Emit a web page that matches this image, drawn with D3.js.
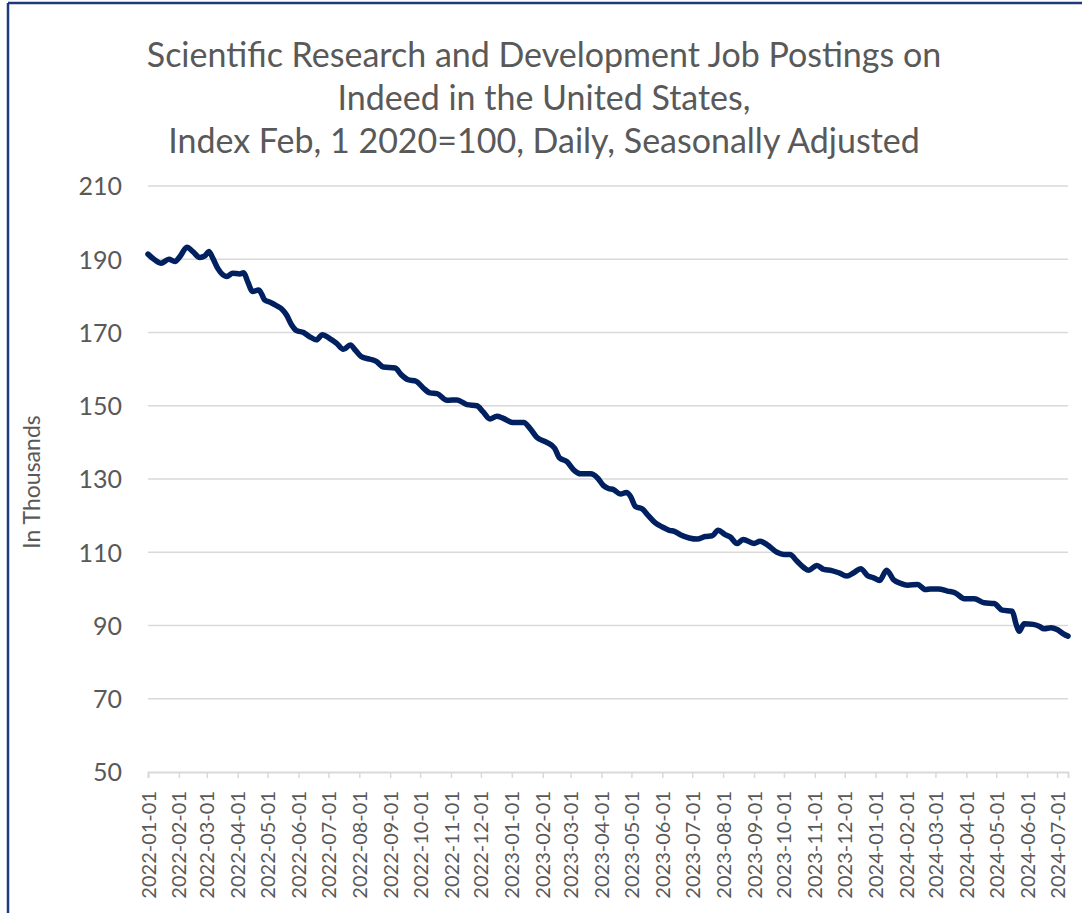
<!DOCTYPE html>
<html>
<head>
<meta charset="utf-8">
<script src="https://cdn.jsdelivr.net/npm/d3@7"></script>
<style>
  html, body { margin: 0; padding: 0; background: #fff; }
  svg { display: block; }
  text { font-family: Lato, "Open Sans", sans-serif; fill: #595959; }
</style>
</head>
<body>
<div id="chart"></div>
<script>
// title lines
const titleLines = [
  "Scientific Research and Development Job Postings on",
  "Indeed in the United States,",
  "Index Feb, 1 2020=100, Daily, Seasonally Adjusted"
];
const yLabel = "In Thousands";
const yTicks = [50, 70, 90, 110, 130, 150, 170, 190, 210];

// series
const dates = [
  "2022-01-01","2022-01-08","2022-01-14","2022-01-22","2022-01-28","2022-02-02","2022-02-09","2022-02-15",
  "2022-02-22","2022-02-27","2022-03-03","2022-03-07","2022-03-12","2022-03-21","2022-03-27","2022-04-03",
  "2022-04-07","2022-04-11","2022-04-16","2022-04-22","2022-04-25","2022-04-28","2022-05-04","2022-05-10",
  "2022-05-16","2022-05-20","2022-05-25","2022-05-30","2022-06-06","2022-06-12","2022-06-19","2022-06-25",
  "2022-07-02","2022-07-09","2022-07-16","2022-07-23","2022-07-28","2022-08-03","2022-08-12","2022-08-18",
  "2022-08-25","2022-09-06","2022-09-12","2022-09-19","2022-09-27","2022-10-04","2022-10-11","2022-10-18",
  "2022-10-28","2022-11-07","2022-11-17","2022-11-27","2022-12-03","2022-12-10","2022-12-17","2022-12-23",
  "2023-01-02","2023-01-13","2023-01-19","2023-01-26","2023-02-05","2023-02-13","2023-02-18","2023-02-25",
  "2023-03-04","2023-03-11","2023-03-21","2023-03-28","2023-04-03","2023-04-08","2023-04-13","2023-04-20",
  "2023-04-26","2023-04-30","2023-05-05","2023-05-12","2023-05-18","2023-05-25","2023-06-01","2023-06-08",
  "2023-06-13","2023-06-19","2023-06-28","2023-07-06","2023-07-14","2023-07-21","2023-07-27","2023-08-03",
  "2023-08-08","2023-08-15","2023-08-21","2023-09-01","2023-09-07","2023-09-14","2023-09-24","2023-10-01",
  "2023-10-07","2023-10-14","2023-10-21","2023-10-26","2023-11-03","2023-11-10","2023-11-18","2023-11-25",
  "2023-12-03","2023-12-10","2023-12-17","2023-12-24","2023-12-30","2024-01-05","2024-01-12","2024-01-19",
  "2024-01-26","2024-02-02","2024-02-12","2024-02-20","2024-02-25","2024-03-04","2024-03-13","2024-03-21",
  "2024-03-30","2024-04-09","2024-04-19","2024-04-29","2024-05-07","2024-05-17","2024-05-21","2024-05-24",
  "2024-05-29","2024-06-07","2024-06-13","2024-06-18","2024-06-25","2024-07-01","2024-07-08","2024-07-12"
];
const values = [
  191.4,189.8,188.9,190.0,189.4,190.7,193.3,192.1,
  190.5,190.9,192.1,190.3,187.5,185.3,186.2,186.0,
  186.3,183.9,181.2,181.6,180.5,178.9,178.2,177.3,
  176.2,174.8,172.1,170.5,170.0,168.9,168.0,169.4,
  168.4,167.1,165.4,166.6,165.2,163.4,162.7,162.1,
  160.6,160.3,158.5,157.1,156.7,154.9,153.5,153.3,
  151.5,151.6,150.3,150.0,148.4,146.4,147.1,146.6,
  145.4,145.4,143.9,141.4,140.0,138.4,135.7,134.8,
  132.5,131.4,131.4,130.3,128.2,127.4,127.1,125.9,
  126.3,125.3,122.5,121.8,120.0,118.0,116.9,116.0,
  115.7,114.8,113.9,113.6,114.3,114.5,116.0,114.8,
  114.2,112.4,113.5,112.4,113.0,112.1,110.0,109.4,
  109.4,107.6,105.8,105.1,106.4,105.3,105.0,104.4,
  103.5,104.4,105.5,103.6,103.0,102.3,105.1,102.5,
  101.5,101.0,101.2,99.8,100.0,100.0,99.4,98.9,
  97.3,97.3,96.2,96.0,94.2,93.9,90.3,88.4,
  90.5,90.3,89.8,89.1,89.4,88.9,87.6,87.1
];
const xStart = "2022-01-01";
const xEnd = "2024-07-12";

const width = 1082;
const height = 913;
const margin = { top: 186, right: 14, bottom: 141, left: 148 };

const parse = d3.utcParse("%Y-%m-%d");
const fmt = d3.utcFormat("%Y-%m-%d");
const data = dates.map((d, i) => ({ date: parse(d), value: values[i] }));

const svg = d3.select("#chart").append("svg")
  .attr("width", width)
  .attr("height", height);

// frame
svg.append("line").attr("x1", 8).attr("x2", 8).attr("y1", 3).attr("y2", height)
  .attr("stroke", "#1f3a7a").attr("stroke-width", 2.5);
svg.append("line").attr("x1", 8).attr("x2", width).attr("y1", 3).attr("y2", 3)
  .attr("stroke", "#1f3a7a").attr("stroke-width", 2.5);

const x = d3.scaleUtc()
  .domain([parse(xStart), parse(xEnd)])
  .range([margin.left, width - margin.right]);

const y = d3.scaleLinear()
  .domain([50, 210])
  .range([height - margin.bottom, margin.top]);

// gridlines
svg.append("g")
  .selectAll("line")
  .data(yTicks.slice(1))
  .join("line")
  .attr("x1", margin.left)
  .attr("x2", width - margin.right)
  .attr("y1", d => y(d))
  .attr("y2", d => y(d))
  .attr("stroke", "#d9d9d9")
  .attr("stroke-width", 1.5);

// y axis labels
const yAxis = svg.append("g")
  .attr("transform", `translate(${margin.left},0)`)
  .call(d3.axisLeft(y).tickValues(yTicks).tickSize(0).tickPadding(26));
yAxis.select(".domain").remove();
yAxis.selectAll("text")
  .style("font-size", "25px")
  .attr("fill", "#595959")
  .attr("dy", "0.35em");

// x axis
const monthTicks = d3.utcMonth.range(parse(xStart), d3.utcDay.offset(parse(xEnd), 1));
const xAxis = svg.append("g")
  .attr("transform", `translate(0,${y(50)})`)
  .call(d3.axisBottom(x).tickValues(monthTicks).tickFormat(fmt).tickSize(6).tickPadding(10));
xAxis.select(".domain").attr("stroke", "#d9d9d9").attr("stroke-width", 2);
xAxis.selectAll(".tick line").attr("stroke", "#d9d9d9").attr("stroke-width", 1.5);
xAxis.selectAll("text")
  .style("font-size", "20px")
  .attr("fill", "#595959")
  .attr("text-anchor", "end")
  .attr("transform", "rotate(-90)")
  .attr("x", -19)
  .attr("y", 0)
  .attr("dy", "0.35em");

// line
const line = d3.line()
  .x(d => x(d.date))
  .y(d => y(d.value))
  .curve(d3.curveMonotoneX);

svg.append("path")
  .datum(data)
  .attr("fill", "none")
  .attr("stroke", "#002060")
  .attr("stroke-width", 5.5)
  .attr("stroke-linejoin", "round")
  .attr("stroke-linecap", "round")
  .attr("d", line);

// title
svg.append("g")
  .selectAll("text")
  .data(titleLines)
  .join("text")
  .attr("x", 544)
  .attr("y", (d, i) => 67 + i * 43)
  .attr("text-anchor", "middle")
  .style("font-size", "34px")
  .text(d => d);

// y axis title
svg.append("text")
  .attr("transform", `translate(40,482) rotate(-90)`)
  .attr("text-anchor", "middle")
  .style("font-size", "23px")
  .text(yLabel);
</script>
</body>
</html>
